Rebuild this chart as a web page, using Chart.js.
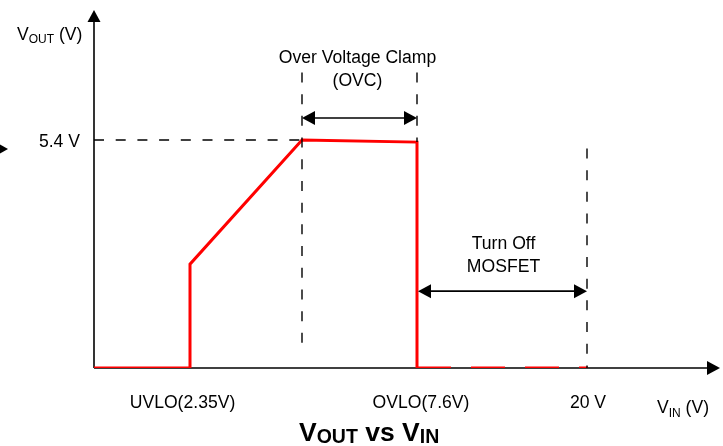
<!DOCTYPE html>
<html>
<head>
<meta charset="utf-8">
<script src="https://cdn.jsdelivr.net/npm/chart.js@4"></script>
<style>
  html, body { margin: 0; padding: 0; background: #ffffff; }
  #wrap { width: 723px; height: 446px; position: relative; }
</style>
</head>
<body>
<div id="wrap"><canvas id="c" width="723" height="446"></canvas></div>
<script>
// Schematic x positions (diagram is not to scale) and output voltages (V)
const outputX = [0, 9.6, 9.6, 20.8, 32.3, 32.3];
const outputY = [0, 0, 2.46, 5.4, 5.35, 0];
const offX = [32.3, 49.4];
const offY = [0, 0];

// Dashed guide lines: [x1, y1, x2, y2]
const guideClampLevel = [0, 5.4, 20.8, 5.4];
const guideOvcStart = [20.8, 7.0, 20.8, 0.38];
const guideOvlo = [32.3, 7.0, 32.3, 5.35];
const guide20V = [49.3, 5.2, 49.3, 0];

// Double-headed arrows: [x1, x2, y]
const arrowOvc = [20.8, 32.3, 5.92];
const arrowOff = [32.4, 49.3, 1.82];

// Tick labels
const xTickLabels = ['UVLO(2.35V)', 'OVLO(7.6V)', '20 V'];
const xTickPos = [8.85, 32.7, 49.4];
const yTickLabels = ['5.4 V'];
const yTickVals = [5.4];

// Annotations
const annotationText = [['Over Voltage Clamp', '(OVC)'], ['Turn Off', 'MOSFET']];
const annotationPos = [[26.35, 7.24], [40.95, 2.84]];

const toPts = (xs, ys) => xs.map((x, i) => ({ x: x, y: ys[i] }));
const segPts = s => [{ x: s[0], y: s[1] }, { x: s[2], y: s[3] }];

const FONT = '"Liberation Sans", Arial, Helvetica, sans-serif';
const guideStyle = { borderColor: '#000000', borderWidth: 1.4, borderDash: [10, 11.7], pointRadius: 0, fill: false, tension: 0 };

function arrowHead(ctx, tx, ty, dir) {
  ctx.beginPath();
  if (dir === 'left') { ctx.moveTo(tx, ty); ctx.lineTo(tx + 13, ty - 7); ctx.lineTo(tx + 13, ty + 7); }
  else if (dir === 'right') { ctx.moveTo(tx, ty); ctx.lineTo(tx - 13, ty - 7); ctx.lineTo(tx - 13, ty + 7); }
  else { ctx.moveTo(tx, ty); ctx.lineTo(tx - 6.5, ty + 12); ctx.lineTo(tx + 6.5, ty + 12); }
  ctx.closePath();
  ctx.fill();
}

function drawParts(ctx, x, parts) {
  let cx = x;
  parts.forEach(p => {
    ctx.font = p[1];
    ctx.textBaseline = 'alphabetic';
    ctx.textAlign = 'left';
    ctx.fillText(p[0], cx, p[2]);
    cx += ctx.measureText(p[0]).width;
  });
}

const diagramPlugin = {
  id: 'diagram',
  beforeDatasetsDraw(chart) {
    const ctx = chart.ctx;
    const xs = chart.scales.x, ys = chart.scales.y;
    const x0 = xs.getPixelForValue(0), y0 = ys.getPixelForValue(0);
    ctx.save();
    ctx.strokeStyle = '#000'; ctx.fillStyle = '#000'; ctx.lineWidth = 1.6;
    ctx.beginPath(); ctx.moveTo(x0, y0); ctx.lineTo(x0, chart.chartArea.top + 10); ctx.stroke();
    arrowHead(ctx, x0, chart.chartArea.top, 'up');
    ctx.beginPath(); ctx.moveTo(x0, y0); ctx.lineTo(chart.chartArea.right - 12, y0); ctx.stroke();
    arrowHead(ctx, chart.chartArea.right - 2, y0, 'right');
    ctx.restore();
  },
  afterDatasetsDraw(chart) {
    const ctx = chart.ctx;
    const xs = chart.scales.x, ys = chart.scales.y;
    ctx.save();
    ctx.fillStyle = '#000'; ctx.strokeStyle = '#000';
    [arrowOvc, arrowOff].forEach(a => {
      const px1 = xs.getPixelForValue(a[0]), px2 = xs.getPixelForValue(a[1]), py = ys.getPixelForValue(a[2]);
      ctx.lineWidth = 1.6;
      ctx.beginPath(); ctx.moveTo(px1 + 10, py); ctx.lineTo(px2 - 10, py); ctx.stroke();
      arrowHead(ctx, px1, py, 'left');
      arrowHead(ctx, px2, py, 'right');
    });
    ctx.font = '17.6px ' + FONT;
    ctx.textAlign = 'center'; ctx.textBaseline = 'alphabetic';
    annotationText.forEach((lines, i) => {
      const px = xs.getPixelForValue(annotationPos[i][0]);
      const py = ys.getPixelForValue(annotationPos[i][1]);
      lines.forEach((t, j) => ctx.fillText(t, px, py + 1 + j * 23));
    });
    const yBase = ys.getPixelForValue(0);
    xTickLabels.forEach((t, i) => {
      ctx.font = '17.6px ' + FONT; ctx.textAlign = 'center';
      ctx.fillText(t, xs.getPixelForValue(xTickPos[i]), yBase + 40);
    });
    yTickLabels.forEach((t, i) => {
      ctx.font = '17.6px ' + FONT; ctx.textAlign = 'right';
      ctx.fillText(t, xs.getPixelForValue(0) - 14, ys.getPixelForValue(yTickVals[i]) + 7);
    });
    const f = '17.6px ' + FONT, fs = '12px ' + FONT;
    drawParts(ctx, 17, [['V', f, 40], ['OUT', fs, 43], [' (V)', f, 40]]);
    drawParts(ctx, 657, [['V', f, 413], ['IN', fs, 417], [' (V)', f, 413]]);
    const fb = 'bold 26.5px ' + FONT, fbs = 'bold 19.5px ' + FONT;
    drawParts(ctx, 299, [['V', fb, 441], ['OUT', fbs, 443], [' vs ', fb, 441], ['V', fb, 441], ['IN', fbs, 443]]);
    ctx.beginPath(); ctx.moveTo(8, 149); ctx.lineTo(0, 144.5); ctx.lineTo(0, 153.5); ctx.closePath(); ctx.fill();
    ctx.restore();
  }
};

new Chart(document.getElementById('c'), {
  type: 'line',
  data: {
    datasets: [
      Object.assign({ data: segPts(guideClampLevel) }, guideStyle),
      Object.assign({ data: segPts(guideOvcStart) }, guideStyle),
      Object.assign({ data: segPts(guideOvlo) }, guideStyle),
      Object.assign({ data: segPts(guide20V) }, guideStyle),
      { data: toPts(offX, offY), borderColor: '#ff0000', borderWidth: 3, borderDash: [34, 20], pointRadius: 0, fill: false, tension: 0 },
      { data: toPts(outputX, outputY), borderColor: '#ff0000', borderWidth: 3, pointRadius: 0, fill: false, tension: 0, borderJoinStyle: 'miter' }
    ]
  },
  options: {
    responsive: false,
    animation: false,
    events: [],
    layout: { padding: { left: 94, right: 1, top: 10, bottom: 78 } },
    plugins: { legend: { display: false }, tooltip: { enabled: false }, title: { display: false } },
    scales: {
      x: { type: 'linear', min: 0, max: 62.8, display: false },
      y: { type: 'linear', min: 0, max: 8.479, display: false }
    }
  },
  plugins: [diagramPlugin]
});
</script>
</body>
</html>
